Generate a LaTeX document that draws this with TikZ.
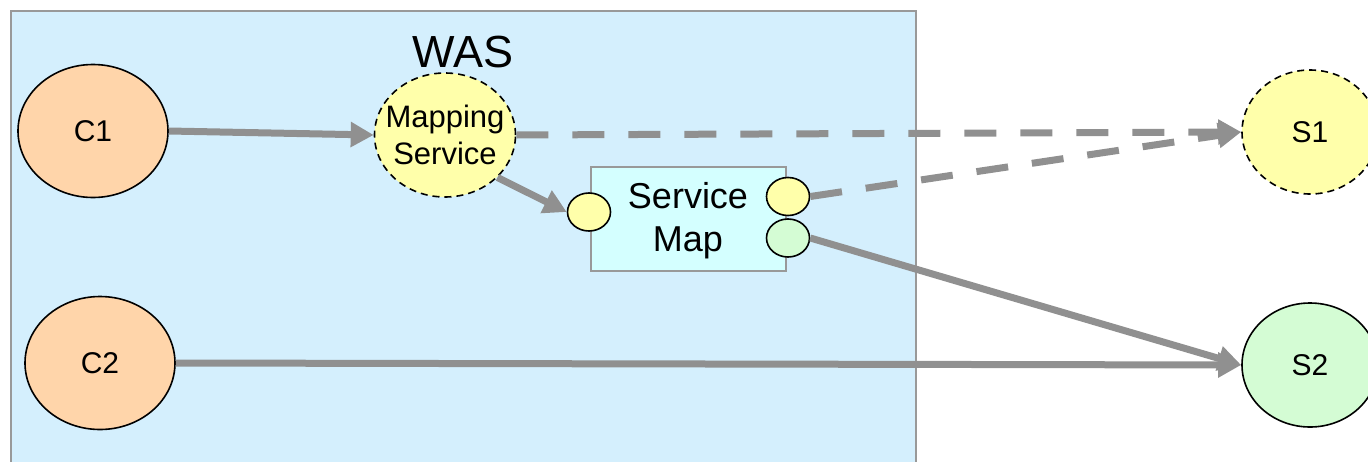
\documentclass[tikz,border=0pt]{standalone}
\usepackage{fontspec}
\setmainfont{Liberation Sans}
\usetikzlibrary{shapes.geometric,arrows.meta}

\definecolor{wasfill}{HTML}{D4EFFD}
\definecolor{wasline}{HTML}{999999}
\definecolor{peach}{HTML}{FFD5AA}
\definecolor{paleyellow}{HTML}{FFFFAA}
\definecolor{palegreen}{HTML}{D4FCD4}
\definecolor{palecyan}{HTML}{D4FFFF}
\definecolor{flow}{HTML}{909090}

\tikzset{
  blob/.style={ellipse, draw=black, line width=1.6pt, inner sep=0pt,
    minimum width=150pt, minimum height=133pt, align=center,
    font=\fontsize{30}{34}\selectfont},
  client/.style={blob, fill=peach},
  svcyellow/.style={blob, fill=paleyellow, dash pattern=on 7pt off 5pt},
  svcgreen/.style={blob, fill=palegreen},
  port/.style={ellipse, draw=black, line width=1.6pt, inner sep=0pt,
    minimum width=43pt, minimum height=38pt},
  flowline/.style={draw=flow, line width=7pt,
    -{Triangle[length=23pt,width=24pt]}},
  flowdash/.style={flowline, dash pattern=on 32pt off 24pt},
}

\begin{document}
\begin{tikzpicture}[x=1pt,y=-1pt]
\useasboundingbox (0,0) rectangle (1368,461);
\clip (0,0) rectangle (1368,461);

% application server container
\draw[fill=wasfill, draw=wasline, line width=2.5pt] (11,11) rectangle (916,480);
\node[font=\fontsize{45}{50}\selectfont, inner sep=0pt] (was) at (463,52) {WAS};

% clients
\node[client] (c1) at (93,131) {C1};
\node[client] (c2) at (100,363) {C2};

% mapping service: the outline is sized on its own, the label sits on top
\node[svcyellow, minimum width=141pt, minimum height=124pt] (ms) at (445,135) {};
\node[font=\fontsize{31}{37}\selectfont, align=center, inner sep=0pt]
  (mstext) at (ms.center) {Mapping\\Service};

% service map with its ports
\node[rectangle, draw=wasline, fill=palecyan, line width=2pt,
  minimum width=195pt, minimum height=104pt, inner sep=0pt] (map) at (688.5,219) {};
\node[font=\fontsize{36}{43}\selectfont, align=center, inner sep=0pt] (maptext) at (688,221) {Service\\Map};
\node[port, fill=paleyellow] (pl) at (589,212) {};
\node[port, fill=paleyellow] (pt) at (788,196.5) {};
\node[port, fill=palegreen] (pb) at (788,238) {};

% services
\node[svcyellow, minimum width=136pt, minimum height=124pt] (s1) at (1310,132) {S1};
\node[svcgreen, minimum width=136pt, minimum height=124pt] (s2) at (1310,365) {S2};

% flows
\draw[flowline] (c1.east) -- (ms.west);
\draw[flowline] (ms.-39) -- (pl.west);
\draw[flowdash] (ms.east) -- (s1.west);
\draw[flowdash] (pt.east) -- (s1.west);
\draw[flowline] (pb.east) -- (s2.west);
\draw[flowline] (c2.east) -- (s2.west);
\end{tikzpicture}
\end{document}
